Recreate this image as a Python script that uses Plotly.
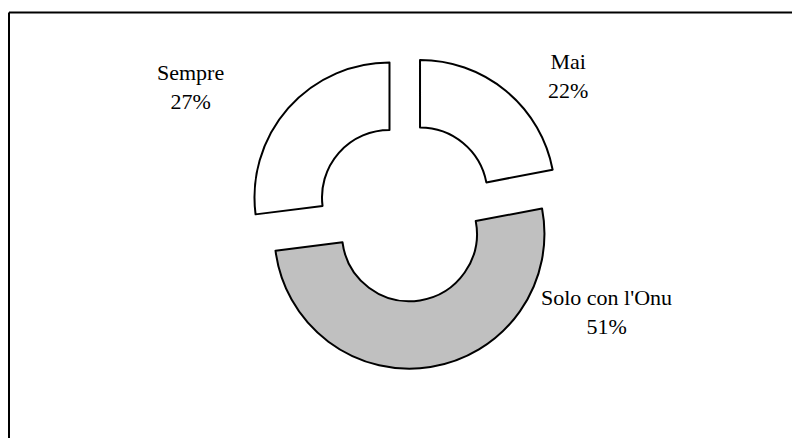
import plotly.graph_objects as go

labels = ["Mai", "Solo con l'Onu", "Sempre"]
values = [22, 51, 27]
colors = ["#ffffff", "#c0c0c0", "#ffffff"]
label_pos_px = {"Mai": (568, 76), "Solo con l'Onu": (606, 312), "Sempre": (190, 87)}

W, H = 792, 438
cx, cy, R, pull = 406, 212, 135, 0.163
half = R * (1 + pull)

fig = go.Figure(go.Pie(
    labels=labels, values=values, sort=False, direction="clockwise", rotation=0,
    hole=0.5, pull=[pull] * len(values),
    marker=dict(colors=colors, line=dict(color="black", width=2)),
    textinfo="none", hoverinfo="none",
    domain=dict(x=[(cx - half) / W, (cx + half) / W], y=[1 - (cy + half) / H, 1 - (cy - half) / H]),
))

total = sum(values)
annotations = []
for lab, val in zip(labels, values):
    px, py = label_pos_px[lab]
    annotations.append(dict(
        x=px / W, y=1 - py / H, xref="paper", yref="paper", showarrow=False,
        text=f"{lab}<br>{round(100 * val / total)}%", align="center",
        font=dict(family="Liberation Serif", size=22, color="black"),
        xanchor="center", yanchor="middle",
    ))

bx, by = 9 / W, 1 - 12.5 / H
fig.update_layout(
    width=W, height=H, margin=dict(l=0, r=0, t=0, b=0),
    paper_bgcolor="white", plot_bgcolor="white", showlegend=False,
    annotations=annotations,
    shapes=[
        dict(type="line", xref="paper", yref="paper", x0=bx, x1=1.0, y0=by, y1=by,
             line=dict(color="black", width=2)),
        dict(type="line", xref="paper", yref="paper", x0=bx, x1=bx, y0=0.0, y1=by,
             line=dict(color="black", width=2)),
    ],
)
fig.write_html(
    "out.html",
    config={"displayModeBar": False},
    post_script=(
        "document.documentElement.style.overflow='hidden';"
        "document.body.style.overflow='hidden';"
        "document.body.style.margin='0';"
    ),
)
